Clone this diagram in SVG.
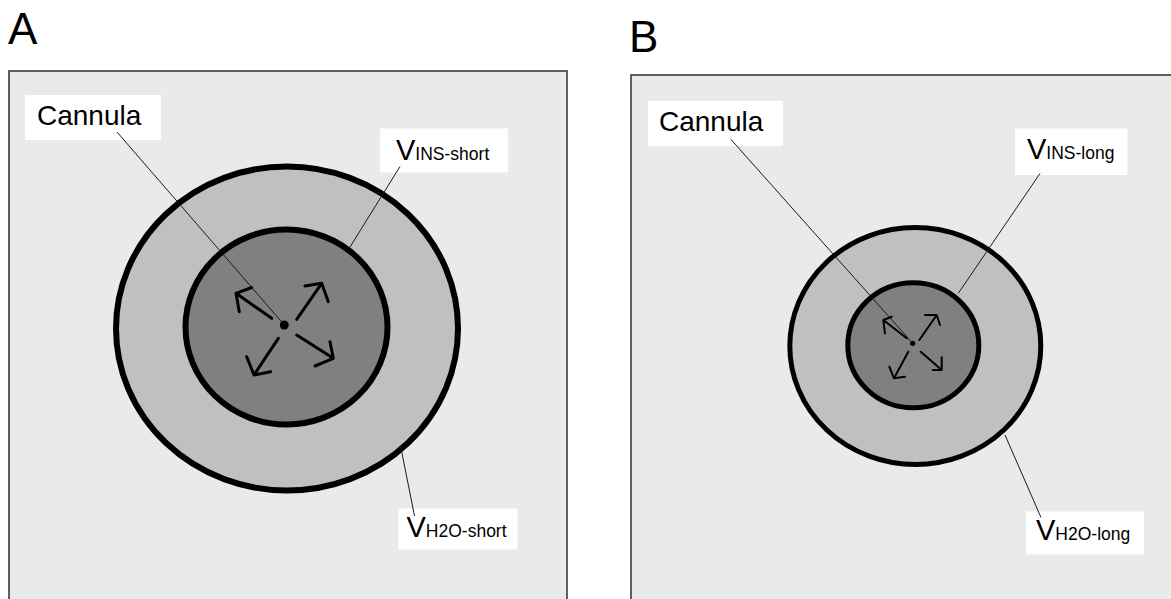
<svg xmlns="http://www.w3.org/2000/svg" width="1171" height="599" viewBox="0 0 1171 599">
  <style>
    .panel { fill: #e9ebea; stroke: #3a3a3a; stroke-width: 1.6; }
    .ring-outer { fill: #c0c0c0; stroke: #000; }
    .ring-inner { fill: #808080; stroke: #000; }
    .tag { font-family: "Liberation Sans", Arial, sans-serif; fill: #000; }
    .panel-letter { font-family: "Liberation Sans", Arial, sans-serif; font-size: 44px; fill: #000; }
    .box { fill: #ffffff; }
    .leader { stroke: #1a1a1a; stroke-width: 1; fill: none; }
    .flow { stroke: #000; fill: none; stroke-linecap: round; stroke-linejoin: round; }
    .big { font-size: 29px; }
    .small { font-size: 17.5px; }
  </style>

  <!-- Panel A -->
  <g id="panel-a">
    <text class="panel-letter" x="8" y="44">A</text>
    <rect class="panel" x="9" y="71" width="558" height="540"/>
  </g>

  <g id="a-outer-zone">
    <ellipse class="ring-outer" cx="287" cy="328.5" rx="171" ry="162" stroke-width="6"/>
  </g>
  <g id="a-inner-zone">
    <ellipse class="ring-inner" cx="286.5" cy="327" rx="101" ry="97.5" stroke-width="6"/>
  </g>

  <g id="a-spread" class="flow" stroke-width="3">
    <path d="M271.7,318.3 L236,293.3 M251.7,287.5 L236,293.3 L239.3,311.7"/>
    <path d="M296.7,319.3 L321.7,283.3 M305,286 L321.7,283.3 L328.3,301.7"/>
    <path d="M278.3,338.3 L254,375 M246.7,356.7 L254,375 L270.7,371.7"/>
    <path d="M296.7,335 L333.3,358.3 M330,341.7 L333.3,358.3 L315,366"/>
  </g>

  <g id="a-cannula">
    <rect class="box" x="25" y="95" width="136" height="45"/>
    <text class="tag" x="37" y="125" font-size="28">Cannula</text>
  </g>
  <g id="a-vins">
    <rect class="box" x="380" y="128.5" width="128" height="44"/>
    <text class="tag" x="396" y="160"><tspan class="big">V</tspan><tspan class="small">INS-short</tspan></text>
  </g>
  <g id="a-vh2o">
    <rect class="box" x="398.5" y="508.5" width="119" height="41"/>
    <text class="tag" x="406.5" y="537"><tspan class="big">V</tspan><tspan class="small">H2O-short</tspan></text>
  </g>

  <!-- Panel B -->
  <g id="panel-b">
    <text class="panel-letter" x="629" y="52">B</text>
    <rect class="panel" x="631" y="75" width="560" height="540"/>
  </g>

  <g id="b-outer-zone">
    <ellipse class="ring-outer" cx="915.3" cy="346" rx="125.5" ry="118.5" stroke-width="5"/>
  </g>
  <g id="b-inner-zone">
    <ellipse class="ring-inner" cx="913.3" cy="345.3" rx="65.5" ry="62.5" stroke-width="5"/>
  </g>

  <g id="b-spread" class="flow" stroke-width="2">
    <path d="M906.7,338.3 L883.3,320 M891.7,316.7 L883.3,320 L885,333.3"/>
    <path d="M919.3,340 L936.7,315 M925,315 L936.7,315 L940,325"/>
    <path d="M908.3,351.7 L894,378.3 M889.3,366.7 L894,378.3 L905,376.7"/>
    <path d="M920.7,351.7 L941.7,370 M941.7,357.3 L941.7,370 L932.7,370"/>
  </g>

  <g id="b-cannula">
    <rect class="box" x="648" y="101" width="135" height="45"/>
    <text class="tag" x="659" y="131" font-size="28">Cannula</text>
  </g>
  <g id="b-vins">
    <rect class="box" x="1015" y="128.5" width="112.5" height="46.5"/>
    <text class="tag" x="1027" y="158.5"><tspan class="big">V</tspan><tspan class="small">INS-long</tspan></text>
  </g>
  <g id="b-vh2o">
    <rect class="box" x="1026" y="511.5" width="118" height="43"/>
    <text class="tag" x="1036" y="540"><tspan class="big">V</tspan><tspan class="small">H2O-long</tspan></text>
  </g>

  <!-- Leader lines -->
  <g id="connectors" class="leader">
    <line x1="117" y1="132" x2="284.3" y2="325"/>
    <line x1="400" y1="166.5" x2="350" y2="247"/>
    <line x1="400.7" y1="446.7" x2="414.5" y2="516"/>
    <line x1="731" y1="139.5" x2="912.7" y2="343.3"/>
    <line x1="1040" y1="173.5" x2="958.3" y2="293.3"/>
    <line x1="1005" y1="435" x2="1041" y2="517.5"/>
  </g>

  <!-- Injection points -->
  <g id="a-cannula-tip">
    <circle cx="284.3" cy="325" r="4.5" fill="#000"/>
  </g>
  <g id="b-cannula-tip">
    <circle cx="912.7" cy="343.3" r="2.6" fill="#000"/>
  </g>
</svg>
